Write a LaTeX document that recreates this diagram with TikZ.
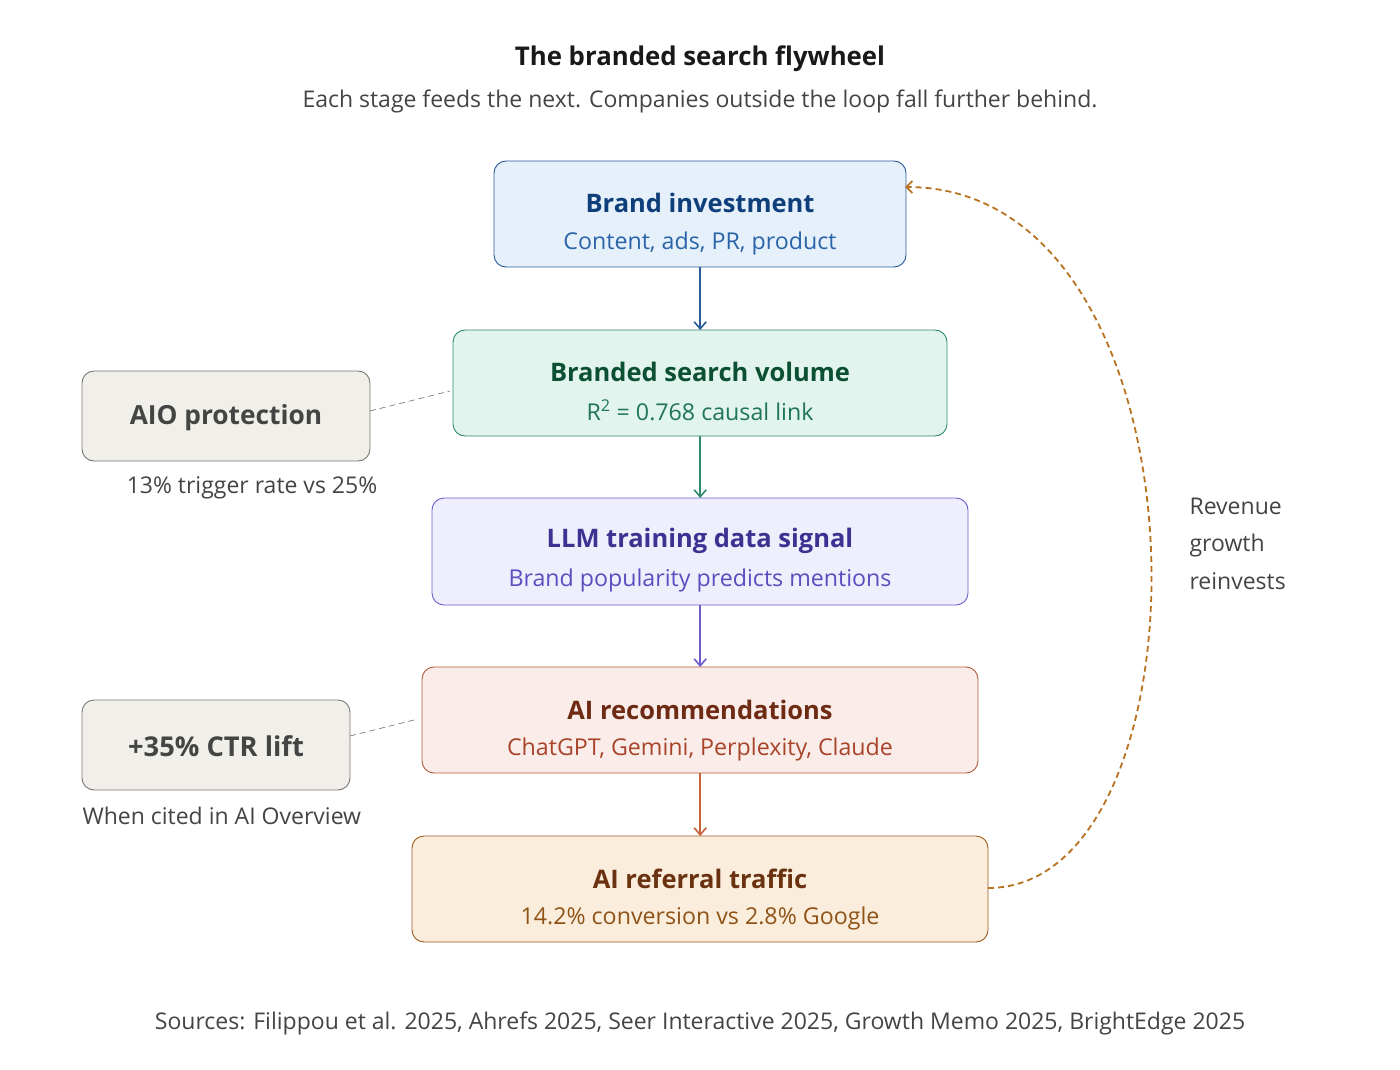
\documentclass[tikz,border=0pt]{standalone}
\usepackage{fontspec}
\setmainfont{Open Sans}
\usetikzlibrary{arrows.meta}
\definecolor{txtgray}{HTML}{444444}
\definecolor{bAfill}{HTML}{E6F0FA}\definecolor{bAline}{HTML}{2A5A9A}\definecolor{bAt}{HTML}{0F3F7A}\definecolor{bAs}{HTML}{2A64A8}
\definecolor{bBfill}{HTML}{E2F4EE}\definecolor{bBline}{HTML}{2E8A68}\definecolor{bBt}{HTML}{0B5033}\definecolor{bBs}{HTML}{1F7555}
\definecolor{bCfill}{HTML}{EEEEFC}\definecolor{bCline}{HTML}{6D5FCB}\definecolor{bCt}{HTML}{3B3291}\definecolor{bCs}{HTML}{5A4EC0}
\definecolor{bDfill}{HTML}{FAECE8}\definecolor{bDline}{HTML}{B5583A}\definecolor{bDt}{HTML}{6E2A12}\definecolor{bDs}{HTML}{A8442A}
\definecolor{bEfill}{HTML}{FAEDDB}\definecolor{bEline}{HTML}{9A5A22}\definecolor{bEt}{HTML}{6A3210}\definecolor{bEs}{HTML}{8F5318}
\definecolor{sidefill}{HTML}{F1EFE9}\definecolor{sideline}{HTML}{7A7770}
\definecolor{loopc}{HTML}{B87220}
\definecolor{arrD}{HTML}{C8603A}
\begin{document}
\begin{tikzpicture}[x=1pt,y=-1pt,
  stage/.style={rounded corners=12pt, line width=0.9pt},
  sidebox/.style={rounded corners=12pt, line width=0.9pt, draw=sideline, fill=sidefill},
  ttl/.style={font=\fontsize{25.5}{30}\selectfont\bfseries, anchor=center},
  sub/.style={font=\fontsize{23.2}{27}\selectfont, anchor=center},
  flow/.style={line width=1.6pt, -{Straight Barb[length=7pt,width=12pt]}},
  link/.style={draw=sideline, line width=0.7pt, dash pattern=on 6pt off 4pt},
  plain/.style={font=\fontsize{23}{27}\selectfont, text=txtgray}
]
\useasboundingbox (0,0) rectangle (1400,1070);
\fill[white] (0,0) rectangle (1400,1070);

\node[font=\fontsize{25.8}{30}\selectfont\bfseries, text=black!90] (title) at (700,59) {The branded search flywheel};
\node[plain] (subtitle) at (700,101) {Each stage feeds the next. Companies outside the loop fall further behind.};

% stages
\draw[stage, draw=bAline, fill=bAfill] (494,161) rectangle (906,267);
\node[inner sep=0, minimum width=412pt, minimum height=106pt, anchor=north west] (bA) at (494,161) {};
\node[ttl, text=bAt] (bAt) at (700,203) {Brand investment};
\node[sub, text=bAs] (bAs) at (700,243) {Content, ads, PR, product};

\draw[stage, draw=bBline, fill=bBfill] (453,330) rectangle (947,436);
\node[inner sep=0, minimum width=494pt, minimum height=106pt, anchor=north west] (bB) at (453,330) {};
\node[ttl, text=bBt] (bBt) at (700,372) {Branded search volume};
\node[sub, text=bBs] (bBs) at (700,410) {R\textsuperscript{2} = 0.768 causal link};

\draw[stage, draw=bCline, fill=bCfill] (432,498) rectangle (968,605);
\node[inner sep=0, minimum width=536pt, minimum height=107pt, anchor=north west] (bC) at (432,498) {};
\node[ttl, text=bCt] (bCt) at (700,541) {LLM training data signal};
\node[sub, text=bCs] (bCs) at (700,580) {Brand popularity predicts mentions};

\draw[stage, draw=bDline, fill=bDfill] (422,667) rectangle (978,773);
\node[inner sep=0, minimum width=556pt, minimum height=106pt, anchor=north west] (bD) at (422,667) {};
\node[ttl, text=bDt] (bDt) at (700,710) {AI recommendations};
\node[sub, text=bDs] (bDs) at (700,749) {ChatGPT, Gemini, Perplexity, Claude};

\draw[stage, draw=bEline, fill=bEfill] (412,836) rectangle (988,942);
\node[inner sep=0, minimum width=576pt, minimum height=106pt, anchor=north west] (bE) at (412,836) {};
\node[ttl, text=bEt] (bEt) at (700,879) {AI referral traffic};
\node[sub, text=bEs] (bEs) at (700,918) {14.2\% conversion vs 2.8\% Google};

% side boxes
\draw[sidebox] (82,371) rectangle (370,461);
\node[inner sep=0, minimum width=288pt, minimum height=90pt, anchor=north west] (sA) at (82,371) {};
\node[font=\fontsize{26.3}{30}\selectfont\bfseries, text=txtgray] (sAt) at (226,418) {AIO protection};
\node[plain] (sAc) at (252,488) {13\% trigger rate vs 25\%};

\draw[sidebox] (82,700) rectangle (350,790);
\node[inner sep=0, minimum width=268pt, minimum height=90pt, anchor=north west] (sB) at (82,700) {};
\node[font=\fontsize{27.3}{31}\selectfont\bfseries, text=txtgray] (sBt) at (216,746) {+35\% CTR lift};
\node[plain, anchor=west] (sBc) at (79,816) {When cited in AI Overview};

% dashed side links
\coordinate (lA1) at (370,411); \coordinate (lA2) at (450,391);
\draw[link] (lA1) -- (lA2);
\coordinate (lB1) at (350,736); \coordinate (lB2) at (418,719);
\draw[link] (lB1) -- (lB2);

% flow arrows
\draw[flow, draw=bAline] (bA.south) -- (bB.north);
\draw[flow, draw=bBline] (bB.south) -- (bC.north);
\draw[flow, draw=bCline] (bC.south) -- (bD.north);
\draw[flow, draw=arrD] (bD.south) -- (bE.north);

% loop
\coordinate (loopS) at (988,888);
\coordinate (loopE) at (905,187);
\draw[loopc, line width=1.8pt, dash pattern=on 6pt off 4pt, -{Straight Barb[length=6pt,width=12pt]}]
  (loopS) .. controls (1218,888) and (1218,187) .. (loopE);

\node[plain, anchor=base west] (r1) at (1186,514) {Revenue};
\node[plain, anchor=base west] (r2) at (1186,551.5) {growth};
\node[plain, anchor=base west] (r3) at (1186,589) {reinvests};

\node[plain] (sources) at (700,1023) {Sources: Filippou et al. 2025, Ahrefs 2025, Seer Interactive 2025, Growth Memo 2025, BrightEdge 2025};
\end{tikzpicture}
\end{document}
